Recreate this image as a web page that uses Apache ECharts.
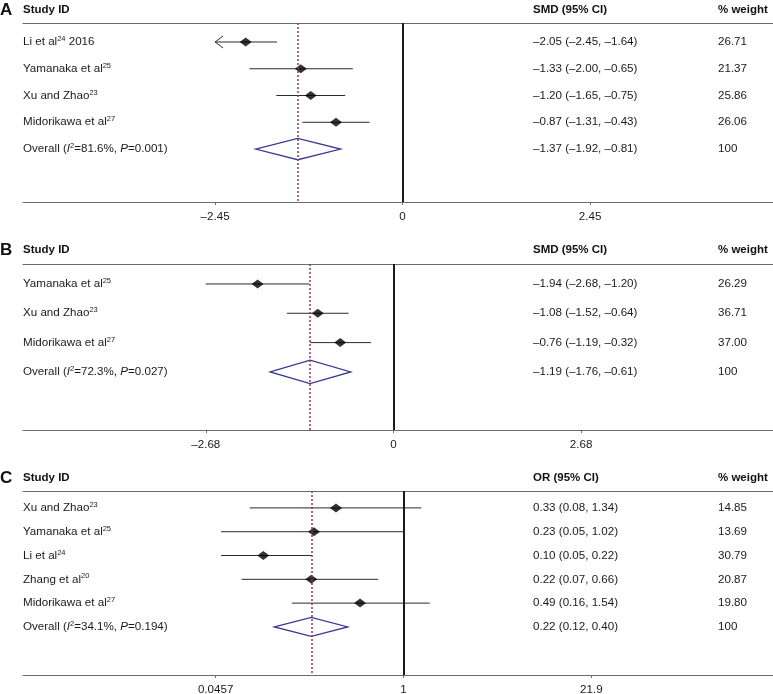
<!DOCTYPE html>
<html>
<head>
<meta charset="utf-8">
<script src="https://cdn.jsdelivr.net/npm/echarts@6/dist/echarts.min.js"></script>
<style>
html,body{margin:0;padding:0;background:#fff;}
#chart{width:773px;height:694px;}
</style>
</head>
<body>
<div id="chart"></div>
<script>
// ---------------- DATA ----------------
// Panel A (SMD)
const studiesA = ['Li et al{sup|24} 2016', 'Yamanaka et al{sup|25}', 'Xu and Zhao{sup|23}', 'Midorikawa et al{sup|27}'];
const estA = [-2.05, -1.33, -1.20, -0.87];
const loA = [-2.45, -2.00, -1.65, -1.31];
const hiA = [-1.64, -0.65, -0.75, -0.43];
const weightA = [26.71, 21.37, 25.86, 26.06];
const arrowA = [true, false, false, false];
const overallA = [-1.37, -1.92, -0.81];   // est, lo, hi
const hetA = ['81.6%', '0.001'];          // I2, P
const ticksA = [-2.45, 0, 2.45];
const tickLabelsA = ['\u20132.45', '0', '2.45'];

// Panel B (SMD)
const studiesB = ['Yamanaka et al{sup|25}', 'Xu and Zhao{sup|23}', 'Midorikawa et al{sup|27}'];
const estB = [-1.94, -1.08, -0.76];
const loB = [-2.68, -1.52, -1.19];
const hiB = [-1.20, -0.64, -0.32];
const weightB = [26.29, 36.71, 37.00];
const arrowB = [false, false, false];
const overallB = [-1.19, -1.76, -0.61];
const hetB = ['72.3%', '0.027'];
const ticksB = [-2.68, 0, 2.68];
const tickLabelsB = ['\u20132.68', '0', '2.68'];

// Panel C (OR, log scale)
const studiesC = ['Xu and Zhao{sup|23}', 'Yamanaka et al{sup|25}', 'Li et al{sup|24}', 'Zhang et al{sup|20}', 'Midorikawa et al{sup|27}'];
const estC = [0.33, 0.23, 0.10, 0.22, 0.49];
const loC = [0.08, 0.05, 0.05, 0.07, 0.16];
const hiC = [1.34, 1.02, 0.22, 0.66, 1.54];
const weightC = [14.85, 13.69, 30.79, 20.87, 19.80];
const arrowC = [false, false, false, false, false];
const overallC = [0.22, 0.12, 0.40];
const hetC = ['34.1%', '0.194'];
const ticksC = [0.0457, 1, 21.9];
const tickLabelsC = ['0.0457', '1', '21.9'];

const letters = ['A', 'B', 'C'];
const effectHeaders = ['SMD (95% CI)', 'SMD (95% CI)', 'OR (95% CI)'];

// ---------------- LAYOUT ----------------
const layout = [
  { top: 23, height: 179, xr: [-4.96, 4.84], yr: [0.29, 6.98], headY: 10 },
  { top: 264, height: 166, xr: [-5.29, 5.42], yr: [0.32, 5.98], headY: 250 },
  { top: 491, height: 184, xr: [-6.25, 6.07], yr: [0.29, 8.02], headY: 478 }
];
const GRID_LEFT = 23;
const COL_EFFECT = 533;
const COL_WEIGHT = 718;
const FONT = '"Liberation Sans", Arial, sans-serif';
const FS = 11.6;

function fmt(v) { return (v < 0 ? '\u2013' : '') + Math.abs(v).toFixed(2); }

const panels = [
  { studies: studiesA, est: estA, lo: loA, hi: hiA, w: weightA, arrow: arrowA, overall: overallA, het: hetA, ticks: ticksA, tickLabels: tickLabelsA, log: false },
  { studies: studiesB, est: estB, lo: loB, hi: hiB, w: weightB, arrow: arrowB, overall: overallB, het: hetB, ticks: ticksB, tickLabels: tickLabelsB, log: false },
  { studies: studiesC, est: estC, lo: loC, hi: hiC, w: weightC, arrow: arrowC, overall: overallC, het: hetC, ticks: ticksC, tickLabels: tickLabelsC, log: true }
];

const richStyles = {
  sup: { fontSize: 7.5, fontFamily: FONT, color: '#1a1a1a', verticalAlign: 'top', lineHeight: 14 },
  it: { fontSize: FS, fontFamily: FONT, color: '#1a1a1a', fontStyle: 'italic', lineHeight: 14 }
};

const grid = [], xAxis = [], yAxis = [], series = [], graphic = [];

panels.forEach((p, i) => {
  const L = layout[i];
  const tx = p.log ? (v => Math.log(v)) : (v => v);
  const n = p.studies.length;
  const names = p.studies.concat(['Overall ({it|I}{sup|2}=' + p.het[0] + ', {it|P}=' + p.het[1] + ')']);
  const effTexts = p.est.map((e, k) => fmt(p.est[k]) + ' (' + fmt(p.lo[k]) + ', ' + fmt(p.hi[k]) + ')')
    .concat([fmt(p.overall[0]) + ' (' + fmt(p.overall[1]) + ', ' + fmt(p.overall[2]) + ')']);
  const wTexts = p.w.map(v => v.toFixed(2)).concat(['100']);
  const rows = names.map((_, k) => k + 1);
  const tickVals = p.ticks.map(tx);

  grid.push({ left: GRID_LEFT, right: 0, top: L.top, height: L.height, containLabel: false, outerBoundsMode: 'none' });

  // bottom axis
  xAxis.push({
    type: 'value', gridIndex: i, position: 'bottom', min: L.xr[0], max: L.xr[1],
    axisLine: { show: true, lineStyle: { color: '#6b6b6b', width: 1 } },
    axisTick: { show: true, customValues: tickVals, length: 3, lineStyle: { color: '#6b6b6b' } },
    axisLabel: {
      customValues: tickVals, margin: 9, fontSize: FS, fontFamily: FONT, color: '#1a1a1a',
      formatter: v => { const k = tickVals.findIndex(t => Math.abs(t - v) < 1e-6); return k >= 0 ? p.tickLabels[k] : ''; }
    },
    splitLine: { show: false }
  });
  // top line
  xAxis.push({
    type: 'value', gridIndex: i, position: 'top', min: L.xr[0], max: L.xr[1],
    axisLine: { show: true, lineStyle: { color: '#6b6b6b', width: 1 } },
    axisTick: { show: false }, axisLabel: { show: false }, splitLine: { show: false }
  });

  const mkY = (offset, texts) => ({
    type: 'value', gridIndex: i, position: 'left', inverse: true, min: L.yr[0], max: L.yr[1], offset: offset,
    axisLine: { show: false }, axisTick: { show: false }, splitLine: { show: false },
    axisLabel: {
      inside: true, margin: 0, align: 'left', customValues: rows,
      fontSize: FS, fontFamily: FONT, color: '#1a1a1a', lineHeight: 14, rich: richStyles,
      formatter: v => { const k = Math.round(v) - 1; return (Math.abs(v - Math.round(v)) < 1e-6 && texts[k] !== undefined) ? texts[k] : ''; }
    }
  });
  const yBase = yAxis.length;
  yAxis.push(mkY(0, names));
  yAxis.push(mkY(-(COL_EFFECT - GRID_LEFT), effTexts));
  yAxis.push(mkY(-(COL_WEIGHT - GRID_LEFT), wTexts));

  const xIdx = i * 2;

  // reference lines (null line & overall estimate)
  series.push({
    type: 'scatter', xAxisIndex: xIdx, yAxisIndex: yBase, data: [], silent: true, z: 1,
    markLine: {
      silent: true, symbol: 'none', label: { show: false }, animation: false,
      data: [
        { xAxis: tx(p.log ? 1 : 0), lineStyle: { color: '#1a1a1a', width: 2, type: 'solid' } },
        { xAxis: tx(p.overall[0]), lineStyle: { color: '#9b3545', width: 1.5, type: [2, 2] } }
      ]
    }
  });

  // CI lines
  series.push({
    type: 'custom', xAxisIndex: xIdx, yAxisIndex: yBase, z: 2, silent: true,
    data: p.est.map((_, k) => [tx(p.lo[k]), k + 1, tx(p.hi[k]), p.arrow[k] ? 1 : 0]),
    encode: { x: [0, 2], y: 1 },
    renderItem: (params, api) => {
      const a = api.coord([api.value(0), api.value(1)]);
      const b = api.coord([api.value(2), api.value(1)]);
      const children = [{ type: 'line', shape: { x1: a[0], y1: a[1], x2: b[0], y2: b[1] }, style: { stroke: '#2a2a2a', lineWidth: 1 } }];
      if (api.value(3) === 1) {
        children.push({ type: 'polyline', shape: { points: [[a[0] + 8, a[1] - 6], [a[0], a[1]], [a[0] + 8, a[1] + 6]] }, style: { stroke: '#2a2a2a', lineWidth: 1, fill: null } });
      }
      return { type: 'group', children };
    }
  });

  // point estimates
  series.push({
    type: 'scatter', xAxisIndex: xIdx, yAxisIndex: yBase, z: 3, silent: true,
    symbol: 'diamond', symbolSize: [12, 9], itemStyle: { color: '#000' },
    data: p.est.map((e, k) => [tx(e), k + 1])
  });

  // overall diamond
  series.push({
    type: 'custom', xAxisIndex: xIdx, yAxisIndex: yBase, z: 3, silent: true,
    data: [[tx(p.overall[0]), n + 1, tx(p.overall[1]), tx(p.overall[2])]],
    encode: { x: [0, 2, 3], y: 1 },
    renderItem: (params, api) => {
      const r = api.value(1), e = api.value(0), lo = api.value(2), hi = api.value(3);
      const pts = [api.coord([lo, r]), api.coord([e, r - 0.4]), api.coord([hi, r]), api.coord([e, r + 0.4])];
      return { type: 'polygon', shape: { points: pts }, style: { stroke: '#3a3a92', lineWidth: 1.3, fill: 'rgba(255,255,255,0)' } };
    }
  });

  // headers
  graphic.push({ type: 'text', x: 0, y: L.headY, style: { text: letters[i], fontSize: 17, fontWeight: 'bold', fontFamily: FONT, fill: '#111', verticalAlign: 'middle', align: 'left' } });
  graphic.push({ type: 'text', x: GRID_LEFT, y: L.headY, style: { text: 'Study ID', fontSize: 11.5, fontWeight: 'bold', fontFamily: FONT, fill: '#111', verticalAlign: 'middle', align: 'left' } });
  graphic.push({ type: 'text', x: COL_EFFECT, y: L.headY, style: { text: effectHeaders[i], fontSize: 11.5, fontWeight: 'bold', fontFamily: FONT, fill: '#111', verticalAlign: 'middle', align: 'left' } });
  graphic.push({ type: 'text', x: COL_WEIGHT, y: L.headY, style: { text: '% weight', fontSize: 11.5, fontWeight: 'bold', fontFamily: FONT, fill: '#111', verticalAlign: 'middle', align: 'left' } });
});

const chart = echarts.init(document.getElementById('chart'), null, { renderer: 'canvas' });
chart.setOption({
  animation: false,
  backgroundColor: '#fff',
  grid, xAxis, yAxis, series, graphic
});
</script>
</body>
</html>
